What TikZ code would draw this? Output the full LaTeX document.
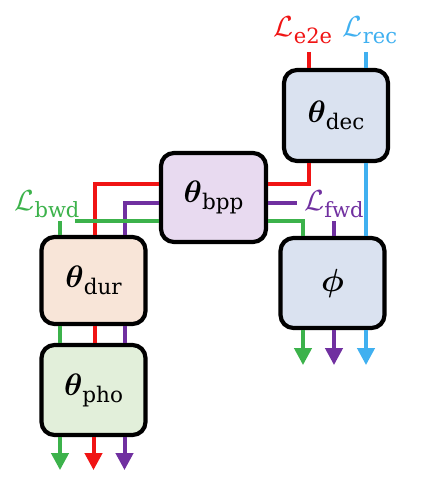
\RequirePackage{fix-cm}
\documentclass[tikz,border=0pt]{standalone}
\usepackage{amsmath,bm}
\usepackage{fontspec}
\newfontfamily\subf{DejaVu Serif}
\usetikzlibrary{arrows.meta}
\definecolor{cred}{RGB}{240,20,20}
\definecolor{cgreen}{RGB}{60,178,75}
\definecolor{cpurple}{RGB}{112,48,160}
\definecolor{cblue}{RGB}{64,176,240}
\definecolor{fbpp}{RGB}{232,218,240}
\definecolor{fblue}{RGB}{218,226,240}
\definecolor{fdur}{RGB}{248,229,216}
\definecolor{fpho}{RGB}{226,239,218}
\newcommand{\lossL}[1]{\fontsize{29}{30}\selectfont$\mathcal{L}$\raisebox{-7pt}{\subf\fontsize{21}{22}\selectfont #1}}
\newcommand{\parsym}[2]{\fontsize{31}{30}\selectfont$\bm{#1}$\raisebox{-7pt}{\subf\fontsize{21.5}{22}\selectfont #2}}
\begin{document}
\begin{tikzpicture}[x=1pt,y=-1pt,
  box/.style={draw=black, line width=4.2pt, rounded corners=13pt,
    minimum width=104pt, minimum height=90pt, inner sep=0pt},
  wire/.style={line width=4pt},
  arr/.style={wire, -{Triangle[length=17pt,width=17pt]}},
  lbl/.style={inner sep=0pt}]
\useasboundingbox (0,0) rectangle (422,487);
% boxes
\node[box, fill=fbpp, minimum width=105pt, minimum height=89pt] (bpp) at (213.5,197.5) {\parsym{\theta}{bpp}};
\node[box, fill=fblue, minimum height=91pt] (dec) at (336,115.5) {\parsym{\theta}{dec}};
\node[box, fill=fdur, minimum height=87pt] (dur) at (93.5,280.5) {\parsym{\theta}{dur}};
\node[box, fill=fpho] (pho) at (93.5,390) {\parsym{\theta}{pho}};
\node[box, fill=fblue] (phi) at (332.5,283) {\fontsize{32}{30}\selectfont$\bm{\phi}$};
% labels
\node[lbl, text=cred] (le2e) at (303,30) {\lossL{e2e}};
\node[lbl, text=cblue] (lrec) at (370,30) {\lossL{rec}};
\node[lbl, text=cgreen] (lbwd) at (47,204) {\lossL{bwd}};
\node[lbl, text=cpurple] (lfwd) at (334,204) {\lossL{fwd}};
% free ends
\coordinate (e2etop) at (309,52);
\coordinate (rectop) at (366,52);
\coordinate (bwdtop) at (60,221);
\coordinate (fwdtop) at (334,221);
\coordinate (gfree) at (75,221);
\coordinate (pfree) at (297,203);
% top stubs
\draw[wire, cred] (e2etop) -- (e2etop |- dec.north);
\draw[wire, cblue] (rectop) -- (rectop |- dec.north);
% dec to bpp / phi
\draw[wire, cred] ([xshift=-27pt]dec.south) |- ([yshift=13.5pt]bpp.east);
\draw[wire, cblue] (rectop |- dec.south) -- (rectop |- phi.north);
% bpp right
\draw[wire, cpurple] ([yshift=-5.5pt]bpp.east) -- (pfree);
\draw[wire, cgreen] ([yshift=-23.5pt]bpp.east) -| ([xshift=-29.5pt]phi.north);
\draw[wire, cpurple] (fwdtop) -- (fwdtop |- phi.north);
% bpp left
\draw[wire, cred] ([yshift=13.5pt]bpp.west) -| ([xshift=1pt]dur.north);
\draw[wire, cpurple] ([yshift=-5.5pt]bpp.west) -| ([xshift=31pt]dur.north);
\draw[wire, cgreen] ([yshift=-23.5pt]bpp.west) -- (gfree);
\draw[wire, cgreen] (bwdtop) -- (bwdtop |- dur.north);
% dur to pho
\draw[wire, cgreen] ([xshift=-33.5pt]dur.south) -- ([xshift=-33.5pt]pho.north);
\draw[wire, cred] ([xshift=1pt]dur.south) -- ([xshift=1pt]pho.north);
\draw[wire, cpurple] ([xshift=31pt]dur.south) -- ([xshift=31pt]pho.north);
% outputs
\draw[arr, cgreen] ([xshift=-33.5pt]pho.south) -- ++(0,33);
\draw[arr, cred] ([xshift=0pt]pho.south) -- ++(0,33);
\draw[arr, cpurple] ([xshift=31pt]pho.south) -- ++(0,33);
\draw[arr, cgreen] ([xshift=-29.5pt]phi.south) -- ++(0,35);
\draw[arr, cpurple] ([xshift=1.5pt]phi.south) -- ++(0,35);
\draw[arr, cblue] ([xshift=33.5pt]phi.south) -- ++(0,35);
\end{tikzpicture}
\end{document}
